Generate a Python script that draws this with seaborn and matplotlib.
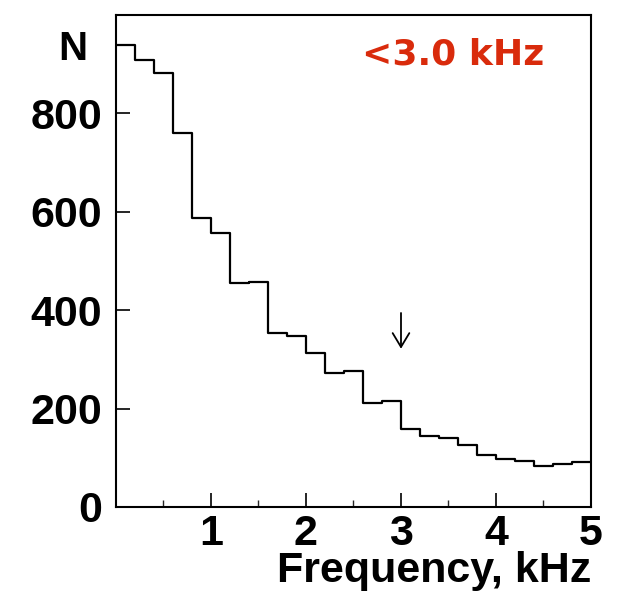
import numpy as np
import matplotlib
matplotlib.use("Agg")
import matplotlib.pyplot as plt
import seaborn as sns

# Histogram contents, 0.2 kHz bins from 0 to 5 kHz
bin_left = [0.0, 0.2, 0.4, 0.6, 0.8, 1.0, 1.2, 1.4, 1.6, 1.8,
            2.0, 2.2, 2.4, 2.6, 2.8, 3.0, 3.2, 3.4, 3.6, 3.8,
            4.0, 4.2, 4.4, 4.6, 4.8]
counts = [939, 908, 882, 760, 588, 556, 456, 458, 354, 348,
          314, 273, 276, 212, 216, 159, 144, 141, 127, 105,
          98, 94, 84, 88, 92]
x_ticks = [1, 2, 3, 4, 5]
y_ticks = [0, 200, 400, 600, 800]
cut_label = "<3.0 kHz"
cut_value = 3.0

sns.set_theme(style="white")
plt.rcParams['font.family'] = ['Liberation Sans', 'DejaVu Sans']

fig = plt.figure(figsize=(6.18, 6.0), dpi=100)
ax = fig.add_axes([0.1877, 0.155, 0.7686, 0.82])

centers = np.array(bin_left) + 0.1
sns.histplot(x=centers, weights=counts, binwidth=0.2, binrange=(0, 5),
             element="step", fill=False, color="black", linewidth=1.6, ax=ax)

ax.set_xlim(0, 5)
ax.set_ylim(0, 1000)
ax.set_xticks(x_ticks)
ax.set_xticks([0.5, 1.5, 2.5, 3.5, 4.5], minor=True)
ax.set_yticks(y_ticks)
ax.set_xticklabels([str(v) for v in x_ticks], fontsize=31, fontweight="bold")
ax.set_yticklabels([str(v) for v in y_ticks], fontsize=31, fontweight="bold")
ax.tick_params(axis="both", which="major", direction="in", length=10, width=1.2,
               colors="black", top=False, right=False, bottom=True, left=True)
ax.tick_params(axis="x", which="minor", direction="in", length=5, width=1.0,
               bottom=True, top=False)
ax.tick_params(axis="y", which="major", pad=10)
ax.tick_params(axis="x", which="major", pad=5)

for s in ax.spines.values():
    s.set_color("black")
    s.set_linewidth(1.5)

ax.set_ylabel("")
ax.set_xlabel("Frequency, kHz", fontsize=31, fontweight="bold", color="black",
              loc="right", labelpad=-2)
ax.text(-0.06, 0.93, "N", transform=ax.transAxes, ha="right", va="center",
        fontsize=29, fontweight="bold", color="black")

ax.text(0.518, 0.92, cut_label, transform=ax.transAxes, ha="left", va="center",
        fontsize=26, fontweight="bold", color="#d92b0c", family="DejaVu Sans")

ax.annotate("", xy=(cut_value, 316), xytext=(cut_value, 400),
            arrowprops=dict(arrowstyle="->,head_length=0.5,head_width=0.3",
                            mutation_scale=20, lw=1.3, color="black"))

fig.savefig("out.png", dpi=100)
